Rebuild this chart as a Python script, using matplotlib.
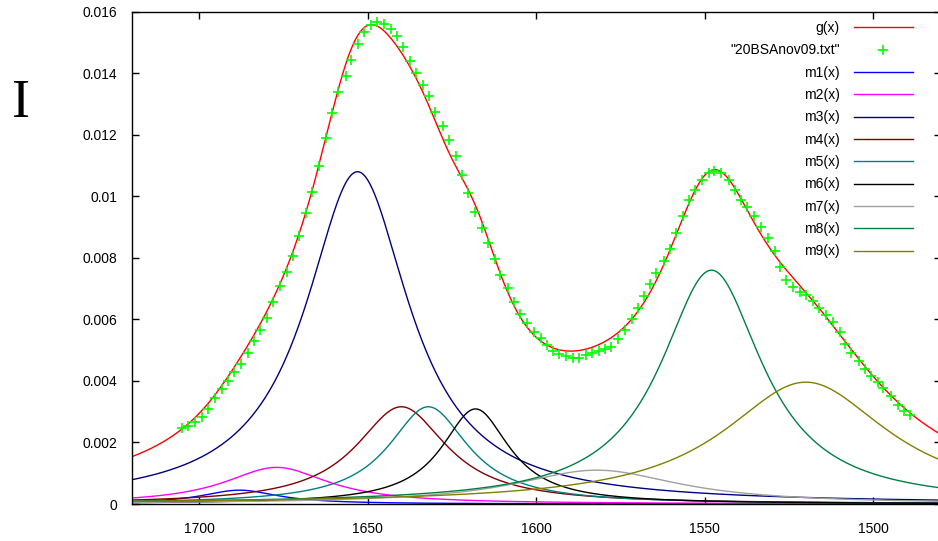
import numpy as np
import matplotlib
matplotlib.use("Agg")
import matplotlib.pyplot as plt
from matplotlib.ticker import FuncFormatter

plt.rcParams['font.family'] = ['Liberation Sans', 'DejaVu Sans']

# Measured spectrum "20BSAnov09.txt": wavenumber (cm-1) and intensity (x 1e-3)
wavenumber = [
    1705.04, 1703.17, 1701.19, 1699.26, 1697.24, 1695.17, 1693.27, 1691.49, 1689.53, 1687.60,
    1685.56, 1683.60, 1681.85, 1679.98, 1678.05, 1675.98, 1673.99, 1672.21, 1670.34, 1668.42,
    1666.58, 1664.35, 1662.43, 1660.56, 1658.69, 1656.49, 1654.86, 1652.85, 1650.98, 1649.14,
    1647.15, 1645.14, 1642.97, 1641.37, 1639.41, 1637.37, 1635.62, 1633.57, 1631.70, 1630.01,
    1627.79, 1625.80, 1623.93, 1622.09, 1620.14, 1618.15, 1616.16, 1614.29, 1612.34, 1610.65,
    1608.51, 1606.50, 1604.69, 1602.82, 1600.56, 1598.57, 1596.88, 1594.99, 1593.18, 1591.07,
    1589.17, 1587.22, 1585.29, 1583.45, 1581.35, 1579.60, 1577.70, 1575.74, 1573.67, 1571.68,
    1569.90, 1567.94, 1566.34, 1564.47, 1562.10, 1560.32, 1558.54, 1556.56, 1554.69, 1552.82,
    1550.69, 1548.85, 1547.19, 1545.29, 1542.77, 1541.14, 1539.15, 1537.35, 1535.51, 1533.43,
    1531.36, 1529.28, 1527.77, 1525.84, 1523.76, 1521.78, 1520.00, 1518.01, 1516.20, 1514.07,
    1512.08, 1510.01, 1508.52, 1506.54, 1504.34, 1502.59, 1500.60, 1498.64, 1497.07, 1494.67,
    1492.71, 1490.87, 1489.24,
]
intensity_milli = [
    2.480, 2.545, 2.675, 2.837, 3.078, 3.435, 3.738, 4.007, 4.280, 4.560,
    4.917, 5.298, 5.645, 6.055, 6.565, 7.075, 7.550, 8.060, 8.700, 9.448,
    10.130, 10.995, 11.905, 12.698, 13.390, 13.926, 14.430, 14.950, 15.324, 15.574,
    15.672, 15.600, 15.428, 15.210, 14.853, 14.404, 14.008, 13.618, 13.267, 12.756,
    12.285, 11.843, 11.300, 10.683, 10.108, 9.490, 8.970, 8.492, 7.956, 7.443,
    7.010, 6.565, 6.175, 5.873, 5.600, 5.379, 5.161, 4.986, 4.882, 4.817,
    4.752, 4.752, 4.830, 4.898, 4.982, 5.051, 5.116, 5.353, 5.668, 6.019,
    6.386, 6.760, 7.160, 7.508, 7.885, 8.297, 8.817, 9.360, 9.874, 10.205,
    10.514, 10.758, 10.823, 10.748, 10.520, 10.205, 9.880, 9.662, 9.360, 9.012,
    8.645, 8.213, 7.699, 7.287, 7.043, 6.900, 6.793, 6.607, 6.360, 6.133,
    5.905, 5.574, 5.207, 4.917, 4.648, 4.378, 4.160, 3.959, 3.760, 3.517,
    3.208, 3.016, 2.902,
]

# Fitted band components m1..m9 (Lorentzian): centre (cm-1), peak height, half width
component_names = ["m1(x)", "m2(x)", "m3(x)", "m4(x)", "m5(x)",
                   "m6(x)", "m7(x)", "m8(x)", "m9(x)"]
centres = [1688, 1677, 1653, 1640, 1632, 1618, 1582, 1548, 1520]
heights = [0.00045, 0.00119, 0.0108, 0.00316, 0.00316, 0.00309, 0.00110, 0.0076, 0.00396]
half_widths = [14, 19, 18.8, 16.5, 14.5, 12.3, 30, 18.5, 30]
component_colors = ["#0000ff", "#ff00ff", "#000080", "#800000", "#008080",
                    "#000000", "#a0a0a0", "#008040", "#808000"]

x_ticks = [1700, 1650, 1600, 1550, 1500]
y_ticks = [0, 0.002, 0.004, 0.006, 0.008, 0.01, 0.012, 0.014, 0.016]


def lorentz(x, c, h, w):
    return h / (1.0 + ((x - c) / w) ** 2)


x = np.linspace(1480, 1720, 961)
components = [lorentz(x, c, h, w) for c, h, w in zip(centres, heights, half_widths)]
g = np.sum(components, axis=0)

W, H = 938, 541
fig = plt.figure(figsize=(W / 100, H / 100), dpi=100)
ax = fig.add_axes([131.7 / W, 37 / H, 809 / W, 492.3 / H])

ax.plot(x, g, color="#ff0000", lw=1.0, label="g(x)")
ax.plot(wavenumber, np.array(intensity_milli) * 1e-3, ls="none", marker="+",
        ms=7, mew=1.2, color="#00ff00", label='"20BSAnov09.txt"')
for comp, name, col in zip(components, component_names, component_colors):
    ax.plot(x, comp, color=col, lw=1.0, label=name)

ax.set_xlim(1720, 1480)
ax.set_ylim(0, 0.016)
ax.set_xticks(x_ticks)
ax.set_yticks(y_ticks)
ax.yaxis.set_major_formatter(FuncFormatter(lambda v, p: f"{v:g}"))
ax.tick_params(axis="both", direction="in", length=5, width=1, top=True, right=True,
               labelsize=10, colors="black")
ax.tick_params(axis="x", pad=13)
ax.tick_params(axis="y", pad=10.5)
for s in ax.spines.values():
    s.set_linewidth(1.0)

ax.legend(loc="upper right", bbox_to_anchor=(0.9661, 0.981), markerfirst=False,
          frameon=False, fontsize=10, handlelength=4.3, handletextpad=1.0,
          labelspacing=0.60, borderpad=0, borderaxespad=0, numpoints=1)

fig.text(20.5 / W, 1 - 104 / H, "I", fontsize=39, family="Liberation Serif",
         ha="center", va="center")

fig.savefig("out.png", dpi=100)
